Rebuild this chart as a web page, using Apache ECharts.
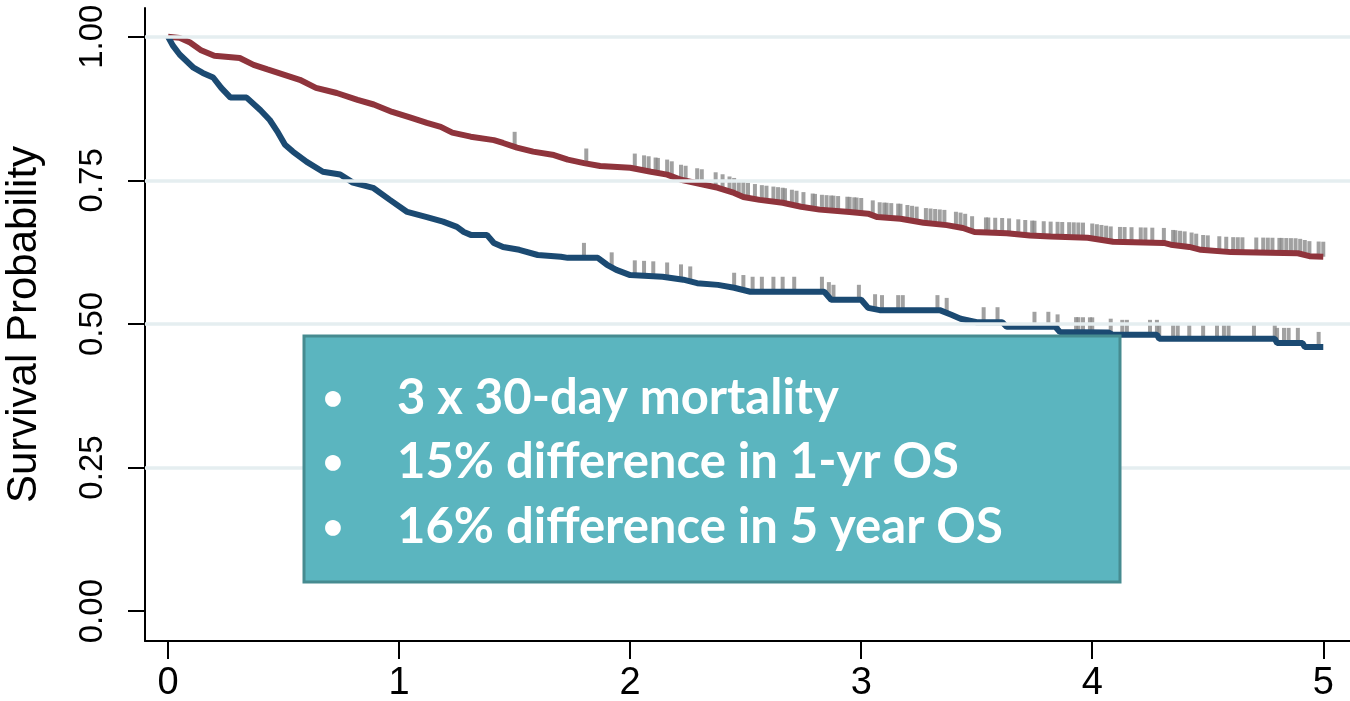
<!DOCTYPE html>
<html>
<head>
<meta charset="utf-8">
<script src="https://cdn.jsdelivr.net/npm/echarts@6/dist/echarts.min.js"></script>
<style>
  html, body { margin: 0; padding: 0; background: #ffffff; }
  #chart { width: 1350px; height: 701px; }
</style>
</head>
<body>
<div id="chart"></div>
<script>
// Kaplan-Meier overall survival, two groups, years since surgery
const xTicks = [0, 1, 2, 3, 4, 5];
const yTicks = [0, 0.25, 0.5, 0.75, 1];

// [years, survival probability]
const survivalRed = [
  [0, 1.0], [0.05, 0.998], [0.095, 0.99], [0.14, 0.977], [0.20, 0.967], [0.31, 0.963],
  [0.37, 0.951], [0.43, 0.943], [0.50, 0.934], [0.57, 0.925], [0.64, 0.911], [0.73, 0.902],
  [0.82, 0.89], [0.89, 0.882], [0.97, 0.869], [1.05, 0.859], [1.12, 0.85], [1.18, 0.843],
  [1.23, 0.833], [1.31, 0.826], [1.41, 0.82], [1.45, 0.815], [1.51, 0.807], [1.58, 0.80],
  [1.67, 0.794], [1.73, 0.786], [1.80, 0.78], [1.87, 0.775], [2.0, 0.772], [2.09, 0.765],
  [2.16, 0.76], [2.22, 0.751], [2.30, 0.744], [2.38, 0.737], [2.45, 0.728], [2.49, 0.721],
  [2.56, 0.716], [2.66, 0.711], [2.74, 0.704], [2.82, 0.699], [2.95, 0.695], [3.03, 0.692],
  [3.07, 0.686], [3.17, 0.683], [3.27, 0.676], [3.37, 0.672], [3.44, 0.667], [3.49, 0.66],
  [3.63, 0.658], [3.73, 0.654], [3.82, 0.652], [3.98, 0.65], [4.09, 0.643], [4.31, 0.641],
  [4.34, 0.638], [4.42, 0.634], [4.47, 0.629], [4.60, 0.625], [4.77, 0.624], [4.89, 0.623],
  [4.94, 0.618], [5.0, 0.617]
];

const survivalBlue = [
  [0, 1.0], [0.02, 0.985], [0.05, 0.969], [0.11, 0.946], [0.15, 0.937], [0.195, 0.929],
  [0.23, 0.911], [0.27, 0.894], [0.34, 0.894], [0.40, 0.872], [0.44, 0.855], [0.476, 0.833],
  [0.506, 0.812], [0.54, 0.80], [0.60, 0.782], [0.67, 0.765], [0.745, 0.76], [0.80, 0.746],
  [0.887, 0.737], [0.96, 0.716], [1.035, 0.695], [1.12, 0.686], [1.19, 0.678], [1.25, 0.669],
  [1.28, 0.66], [1.31, 0.655], [1.38, 0.655], [1.41, 0.641], [1.45, 0.634], [1.52, 0.629],
  [1.60, 0.62], [1.70, 0.617], [1.73, 0.615], [1.86, 0.615], [1.90, 0.603], [1.94, 0.594],
  [2.0, 0.585], [2.14, 0.582], [2.23, 0.577], [2.29, 0.571], [2.38, 0.568], [2.45, 0.563],
  [2.52, 0.556], [2.84, 0.556], [2.87, 0.542], [3.0, 0.542], [3.03, 0.528], [3.08, 0.524],
  [3.34, 0.524], [3.39, 0.516], [3.43, 0.509], [3.50, 0.503], [3.61, 0.503], [3.63, 0.495],
  [3.84, 0.495], [3.86, 0.486], [4.07, 0.485], [4.09, 0.481], [4.28, 0.481], [4.29, 0.474],
  [4.79, 0.474], [4.80, 0.467], [4.91, 0.467], [4.92, 0.46], [5.0, 0.46]
];

// censoring times (years)
const censorRed = [
  1.50, 1.81, 2.02, 2.06, 2.08, 2.11, 2.12, 2.16, 2.18, 2.22, 2.24, 2.29, 2.31, 2.37, 2.40,
  2.43, 2.45, 2.47, 2.49, 2.51, 2.54, 2.57, 2.59, 2.62, 2.64, 2.66, 2.67, 2.70, 2.72, 2.75,
  2.79, 2.80, 2.83, 2.85, 2.87, 2.88, 2.90, 2.94, 2.95, 2.97, 2.98, 3.00, 3.05, 3.08, 3.10,
  3.11, 3.13, 3.16, 3.17, 3.20, 3.22, 3.24, 3.28, 3.30, 3.32, 3.34, 3.36, 3.41, 3.43, 3.45,
  3.48, 3.54, 3.55, 3.58, 3.61, 3.64, 3.68, 3.71, 3.74, 3.75, 3.79, 3.82, 3.85, 3.87, 3.90,
  3.92, 3.94, 3.96, 4.00, 4.02, 4.04, 4.06, 4.08, 4.12, 4.14, 4.17, 4.21, 4.23, 4.26, 4.31,
  4.35, 4.36, 4.38, 4.40, 4.43, 4.45, 4.48, 4.50, 4.55, 4.58, 4.61, 4.63, 4.65, 4.71, 4.74,
  4.76, 4.78, 4.81, 4.82, 4.84, 4.86, 4.88, 4.90, 4.92, 4.94, 4.98, 5.00
];
const censorBlue = [
  1.80, 1.92, 2.02, 2.06, 2.10, 2.16, 2.22, 2.26, 2.45, 2.49, 2.53, 2.57, 2.62, 2.66, 2.71,
  2.83, 2.86, 2.88, 2.99, 3.06, 3.09, 3.16, 3.18, 3.33, 3.37, 3.53, 3.59, 3.75, 3.81, 3.85,
  3.93, 3.94, 3.96, 3.99, 4.00, 4.08, 4.13, 4.15, 4.25, 4.28, 4.29, 4.35, 4.37, 4.42, 4.48,
  4.54, 4.57, 4.59, 4.70, 4.79, 4.80, 4.83, 4.85, 4.89, 4.98
];

const boxLines = [
  '3 x 30-day mortality',
  '15% difference in 1-yr OS',
  '16% difference in 5 year OS'
];

// survival value of a curve at time t (along the drawn polyline)
function survivalAt(curve, t) {
  for (let i = 1; i < curve.length; i++) {
    const [t0, s0] = curve[i - 1];
    const [t1, s1] = curve[i];
    if (t <= t1) {
      return t1 === t0 ? s1 : s0 + (s1 - s0) * (t - t0) / (t1 - t0);
    }
  }
  return curve[curve.length - 1][1];
}

const censorMarks = (curve, times) => times.map(t => [t, survivalAt(curve, t)]);

const RED = '#8f343c';
const BLUE = '#1b4a72';
const GREY = '#8a8a8a';

const chart = echarts.init(document.getElementById('chart'), null, { renderer: 'canvas' });

const labelFont = "'Liberation Sans', Arial, sans-serif";

const graphics = [{
  type: 'rect',
  shape: { x: 304, y: 336, width: 816, height: 246 },
  style: { fill: '#5bb5bf', stroke: '#468b90', lineWidth: 3 },
  z: 100
}];
boxLines.forEach((line, i) => {
  const cy = 398 + i * 64.5;
  graphics.push({
    type: 'text', x: 333, y: cy, z: 101,
    style: { text: '\u2022', fill: '#ffffff', font: 'bold 36px Lato, sans-serif',
             textAlign: 'center', textVerticalAlign: 'middle' }
  });
  graphics.push({
    type: 'text', x: 397, y: cy, z: 101,
    style: { text: line, fill: '#ffffff', font: 'bold 49px Lato, sans-serif',
             textAlign: 'left', textVerticalAlign: 'middle' }
  });
});

chart.setOption({
  animation: false,
  backgroundColor: '#ffffff',
  grid: { left: 145, top: 8, width: 1206, bottom: 60, containLabel: false, outerBoundsMode: 'none' },
  xAxis: {
    type: 'value',
    min: -0.1,
    max: 5.12,
    axisLine: { show: true, onZero: false, lineStyle: { color: '#000', width: 2 } },
    axisTick: { show: true, customValues: xTicks, length: 18, lineStyle: { color: '#000', width: 2 } },
    axisLabel: {
      customValues: xTicks,
      fontSize: 38, color: '#000', fontFamily: labelFont,
      margin: 24
    },
    splitLine: { show: false }
  },
  yAxis: {
    type: 'value',
    min: -0.052,
    max: 1.05,
    name: 'Survival Probability',
    nameLocation: 'middle',
    nameRotate: 90,
    nameGap: 100,
    nameTextStyle: { fontSize: 42, color: '#000', fontFamily: labelFont },
    axisLine: { show: true, onZero: false, lineStyle: { color: '#000', width: 2 } },
    axisTick: { show: true, customValues: yTicks, length: 17, lineStyle: { color: '#000', width: 2 } },
    axisLabel: {
      customValues: yTicks,
      rotate: 90,
      fontSize: 33, color: '#000', fontFamily: labelFont,
      margin: 36,
      formatter: v => v.toFixed(2)
    },
    splitLine: { show: false }
  },
  series: [
    {
      type: 'line',
      data: [],
      silent: true,
      z: 1,
      markLine: {
        silent: true,
        symbol: 'none',
        label: { show: false },
        lineStyle: { color: '#e5eef0', width: 3.5, type: 'solid' },
        data: yTicks.filter(v => v > 0).map(v => ({ yAxis: v }))
      }
    },
    {
      name: 'censor-red', type: 'scatter', z: 2,
      data: censorMarks(survivalRed, censorRed),
      symbol: 'rect', symbolSize: [4, 15], symbolOffset: [0, -7.5],
      itemStyle: { color: GREY }
    },
    {
      name: 'censor-blue', type: 'scatter', z: 2,
      data: censorMarks(survivalBlue, censorBlue),
      symbol: 'rect', symbolSize: [4, 15], symbolOffset: [0, -7.5],
      itemStyle: { color: GREY }
    },
    {
      name: 'red', type: 'line', z: 3,
      data: survivalRed, showSymbol: false,
      lineStyle: { color: RED, width: 6 }
    },
    {
      name: 'blue', type: 'line', z: 3,
      data: survivalBlue, showSymbol: false,
      lineStyle: { color: BLUE, width: 6 }
    }
  ],
  graphic: graphics
});
</script>
</body>
</html>
